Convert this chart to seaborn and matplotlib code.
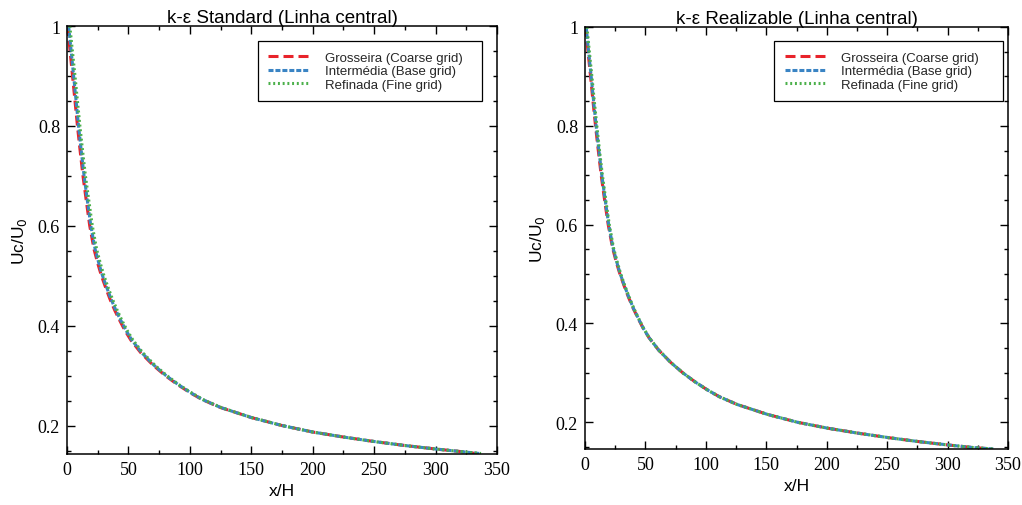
import numpy as np
import pandas as pd
import matplotlib
matplotlib.use("Agg")
import matplotlib.pyplot as plt
import seaborn as sns
from matplotlib.ticker import MultipleLocator, FuncFormatter

# ---------------- data ----------------
titles = ["k-ε Standard (Linha central)", "k-ε Realizable (Linha central)"]
series_labels = ["Grosseira (Coarse grid)", "Intermédia (Base grid)", "Refinada (Fine grid)"]
x_label = "x/H"
y_label = "Uc/U$_0$"

# k-eps Standard (centre line)
std_y = [1.0, 0.95, 0.9, 0.85, 0.8, 0.75, 0.7, 0.65, 0.6, 0.553, 0.525, 0.5, 0.476, 0.453, 0.43, 0.41,
         0.391, 0.371, 0.346, 0.321, 0.3, 0.282, 0.266, 0.252, 0.236, 0.216, 0.2, 0.187, 0.177, 0.168,
         0.16, 0.153, 0.148, 0.144]
std_coarse_x = [0.5, 2.5, 4.5, 6.5, 8.5, 10.7, 13, 15.7, 18.5, 22, 25, 28, 31.5, 35, 39, 43, 47, 52, 60,
                70, 80, 90, 100, 110, 125, 150, 175, 200, 225, 250, 275, 300, 320, 333]
std_base_x = [1.3, 3.4, 5.4, 7.4, 9.4, 11.6, 13.9, 16.6, 19.4, 22.9, 25.9, 28.9, 32.4, 35.9, 39.9, 43.9,
              47.9, 52.8, 60.8, 70.7, 80.6, 90.5, 100.4, 110.3, 125.2, 150, 175, 200, 225, 250, 275,
              300, 320, 336]
std_fine_x = [2.3, 4.4, 6.5, 8.5, 10.5, 12.7, 15, 17.8, 20.6, 24.1, 27.1, 30.1, 33.5, 37, 41, 44.8,
              48.8, 53.7, 61.6, 71.4, 81.2, 91, 101, 110.8, 125.6, 150.4, 175.2, 200, 225, 250, 275,
              300, 320, 337]

# k-eps Realizable (centre line)
rlz_y = [1.0, 0.95, 0.9, 0.85, 0.8, 0.75, 0.7, 0.65, 0.6, 0.553, 0.525, 0.5, 0.476, 0.453, 0.43, 0.41,
         0.391, 0.371, 0.346, 0.321, 0.3, 0.282, 0.266, 0.252, 0.236, 0.216, 0.2, 0.188, 0.178, 0.169,
         0.161, 0.154, 0.149, 0.146]
rlz_coarse_x = [0.5, 2.5, 4.6, 6.6, 8.7, 11, 13.4, 16.2, 19.2, 22.8, 25.8, 28.9, 32.4, 36, 40, 44, 48,
                53, 61, 71, 81, 91, 101, 111, 126, 151, 176, 201, 226, 251, 276, 301, 321, 337]
rlz_base_x = [1.0, 3.0, 5.1, 7.1, 9.2, 11.5, 13.9, 16.7, 19.6, 23.2, 26.2, 29.2, 32.7, 36.3, 40.2, 44.2,
              48.1, 53.1, 61, 71, 81, 91, 101, 111, 126, 151, 176, 201, 226, 251, 276, 301, 321, 338]
rlz_fine_x = [1.6, 3.6, 5.7, 7.7, 9.8, 12, 14.4, 17.2, 20.1, 23.6, 26.6, 29.6, 33, 36.6, 40.5, 44.4,
              48.3, 53.2, 61.1, 71, 81, 91, 101, 111, 126, 151, 176, 201, 226, 251, 276, 301, 321, 338]

panels = [
    [(std_coarse_x, std_y), (std_base_x, std_y), (std_fine_x, std_y)],
    [(rlz_coarse_x, rlz_y), (rlz_base_x, rlz_y), (rlz_fine_x, rlz_y)],
]

# ---------------- style ----------------
sns.set_theme(style="white")
plt.rcParams["font.family"] = ["Liberation Sans", "DejaVu Sans"]
plt.rcParams["lines.scale_dashes"] = False

colors = ["#e8232a", "#3a84c4", "#4bb04a"]
linestyles = [(0, (7.2, 3.6)), (0, (3.6, 1.4)), (0, (1.4, 2.0))]
lw = 2.2

fig = plt.figure(figsize=(10.22, 5.06), dpi=100)
axes_rects = [
    [67 / 1022, 1 - 455 / 506, 430 / 1022, 428 / 506],
    [585 / 1022, 1 - 450 / 506, 423 / 1022, 422 / 506],
]
ylims = [(0.143, 1.0), (0.146, 1.0)]
legend_anchor = [(0.444, 0.5, 0.521, 0.465), (0.447, 0.5, 0.541, 0.467)]

fmt = FuncFormatter(lambda v, p: "%g" % round(v, 6))

for i, rect in enumerate(axes_rects):
    ax = fig.add_axes(rect)
    for j, (xs, ys) in enumerate(panels[i]):
        df = pd.DataFrame({"x": xs, "y": ys})
        sns.lineplot(data=df, x="x", y="y", ax=ax, color=colors[j],
                     linestyle=linestyles[j], linewidth=lw,
                     label=series_labels[j], sort=False, estimator=None)
    ax.set_xlim(0, 350)
    ax.set_ylim(*ylims[i])
    ax.xaxis.set_major_locator(MultipleLocator(50))
    ax.xaxis.set_minor_locator(MultipleLocator(25))
    ax.yaxis.set_major_locator(MultipleLocator(0.2))
    ax.yaxis.set_minor_locator(MultipleLocator(0.05))
    ax.xaxis.set_major_formatter(fmt)
    ax.yaxis.set_major_formatter(fmt)
    ax.tick_params(which="both", direction="in", top=True, right=True,
                   bottom=True, left=True, colors="black", width=1.0)
    ax.tick_params(which="major", length=5.5, labelsize=13, pad=5)
    ax.tick_params(which="minor", length=3)
    for lab in ax.get_xticklabels() + ax.get_yticklabels():
        lab.set_fontfamily(["Liberation Serif", "DejaVu Serif"])
    for sp in ax.spines.values():
        sp.set_color("black")
        sp.set_linewidth(1.1)
    ax.set_title(titles[i], fontsize=13.5, pad=3, color="black")
    ax.set_xlabel(x_label, fontsize=12.5, color="black", labelpad=4)
    ax.set_ylabel(y_label, fontsize=12.5, color="black", labelpad=6)
    leg = ax.legend(loc="upper right", bbox_to_anchor=legend_anchor[i], mode="expand",
                    fontsize=9.5, frameon=True, fancybox=False,
                    edgecolor="black", borderaxespad=0.0, handlelength=3.1,
                    labelspacing=0.1, borderpad=0.8, handletextpad=1.15)
    leg.get_frame().set_linewidth(0.9)
    leg.get_frame().set_facecolor("white")
    leg.get_frame().set_alpha(1)

fig.savefig("out.png", dpi=100)
